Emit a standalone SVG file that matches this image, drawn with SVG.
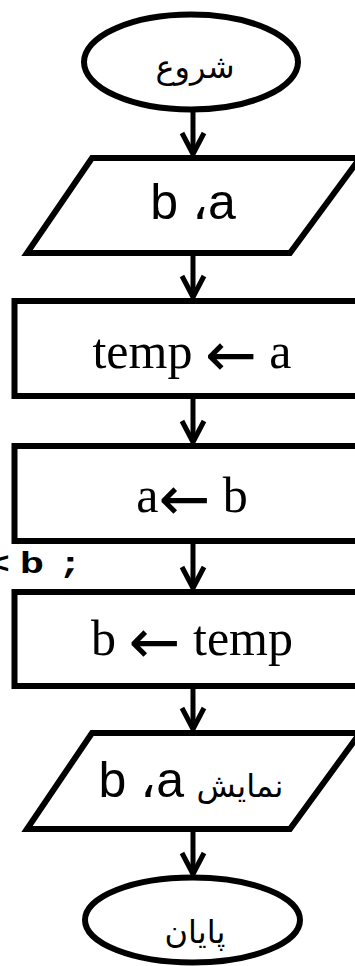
<svg xmlns="http://www.w3.org/2000/svg" width="355" height="966" viewBox="0 0 355 966">
<style>
.shape{fill:#fff;stroke:#000;stroke-width:6;stroke-linejoin:miter}
.conn{stroke:#000;stroke-width:5;fill:none}
.lat{font-family:"Liberation Sans",Arial,sans-serif;font-size:50px;fill:#000}
.ser{font-family:"Liberation Serif","Times New Roman",serif;font-size:50px;fill:#000}
.arr{font-family:"DejaVu Sans",sans-serif;font-size:62px}
.fa{font-family:"DejaVu Sans",sans-serif;font-size:32px;fill:#000}
.code{font-family:"Liberation Mono","Courier New",monospace;font-weight:bold;font-size:30px;fill:#000}
</style>
<defs>
<marker id="ah" markerUnits="userSpaceOnUse" markerWidth="30" markerHeight="30" refX="22" refY="12" orient="auto" overflow="visible">
<path d="M1,1 L22,12 L1,23" fill="none" stroke="#000" stroke-width="5" stroke-linecap="butt" stroke-linejoin="miter"/>
</marker>
</defs>
<rect width="355" height="966" fill="#fff"/>
<g id="connectors">
<line class="conn" x1="193" y1="110" x2="193" y2="154" marker-end="url(#ah)"/>
<line class="conn" x1="193" y1="255" x2="193" y2="297" marker-end="url(#ah)"/>
<line class="conn" x1="193" y1="398" x2="193" y2="442" marker-end="url(#ah)"/>
<line class="conn" x1="193" y1="543" x2="193" y2="588" marker-end="url(#ah)"/>
<line class="conn" x1="193" y1="688" x2="193" y2="729" marker-end="url(#ah)"/>
<line class="conn" x1="193" y1="831" x2="193" y2="874" marker-end="url(#ah)"/>
</g>
<g id="start">
<ellipse class="shape" cx="191" cy="62" rx="107" ry="47.5"/>
<text class="fa" x="195" y="78" text-anchor="middle">شروع</text>
</g>
<g id="input">
<polygon class="shape" points="92,158 360,158 290,253 27,253"/>
<text class="lat" x="193" y="219" text-anchor="middle">b ،a</text>
</g>
<g id="step1">
<rect class="shape" x="14.5" y="301" width="360" height="95"/>
<text class="ser" x="192" y="368" text-anchor="middle">temp <tspan class="arr" dy="8">←</tspan><tspan dy="-8"> a</tspan></text>
</g>
<g id="step2">
<rect class="shape" x="14.5" y="446" width="360" height="95"/>
<text class="ser" x="192" y="512" text-anchor="middle">a<tspan class="arr" dy="8">←</tspan><tspan dy="-8"> b</tspan></text>
</g>
<g id="code">
<text class="code" y="573" transform="scale(1.35,1)"><tspan x="-10.5">&lt;</tspan><tspan x="14.7">b</tspan><tspan x="43">;</tspan></text>
</g>
<g id="step3">
<rect class="shape" x="14.5" y="592" width="360" height="94"/>
<text class="ser" x="192" y="655" text-anchor="middle">b <tspan class="arr" dy="8">←</tspan><tspan dy="-8"> temp</tspan></text>
</g>
<g id="output">
<polygon class="shape" points="92,733 360,733 290,829 27,829"/>
<text class="lat" x="184" y="797" text-anchor="end">b ،a</text>
<text class="fa" x="240" y="797" text-anchor="middle" font-size="27">نمایش</text>
</g>
<g id="end">
<ellipse class="shape" cx="192.5" cy="920" rx="107.5" ry="42.5"/>
<text class="fa" x="195" y="943" text-anchor="middle">پایان</text>
</g>
</svg>
